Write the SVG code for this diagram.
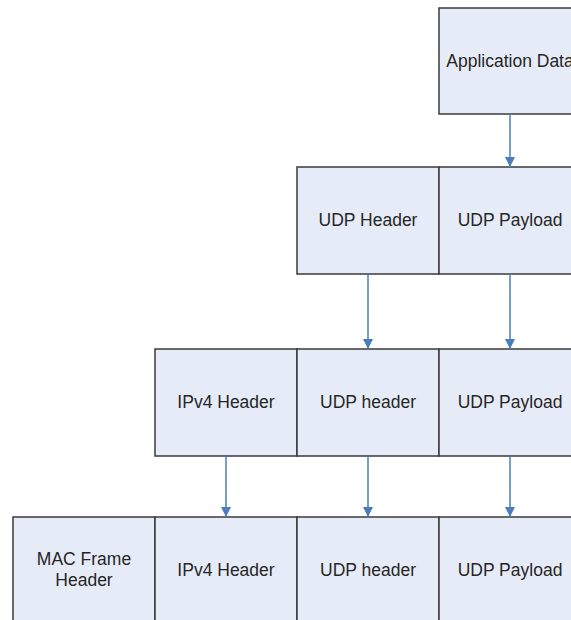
<svg xmlns="http://www.w3.org/2000/svg" width="571" height="620" viewBox="0 0 571 620">
<style>
.box{fill:#e6ecf7;stroke:#3a3a3a;stroke-width:1.5}
.t{font-family:"Liberation Sans",Arial,sans-serif;font-size:17.5px;fill:#262626;text-anchor:middle}
.c{stroke:#4a7ebb;stroke-width:1.5;fill:none;marker-end:url(#ah)}
</style>
<defs>
<marker id="ah" markerUnits="userSpaceOnUse" markerWidth="10" markerHeight="10" refX="10" refY="5" orient="auto">
<path d="M0,0 L10,5 L0,10 Z" fill="#4a7ebb"/>
</marker>
</defs>
<rect width="571" height="620" fill="#ffffff"/>
<g id="app-data"><rect class="box" x="439" y="8" width="142" height="106"/><text class="t" x="510" y="67">Application Data</text></g>
<g id="udp-header-2"><rect class="box" x="297" y="167" width="142" height="107"/><text class="t" x="368" y="226">UDP Header</text></g>
<g id="udp-payload-2"><rect class="box" x="439" y="167" width="142" height="107"/><text class="t" x="510" y="226">UDP Payload</text></g>
<g id="ipv4-header-3"><rect class="box" x="155" y="349" width="142" height="107"/><text class="t" x="226" y="408">IPv4 Header</text></g>
<g id="udp-header-3"><rect class="box" x="297" y="349" width="142" height="107"/><text class="t" x="368" y="408">UDP header</text></g>
<g id="udp-payload-3"><rect class="box" x="439" y="349" width="142" height="107"/><text class="t" x="510" y="408">UDP Payload</text></g>
<g id="mac-header-4"><rect class="box" x="13" y="517" width="142" height="107"/><text class="t" x="84" y="565">MAC Frame</text><text class="t" x="84" y="586">Header</text></g>
<g id="ipv4-header-4"><rect class="box" x="155" y="517" width="142" height="107"/><text class="t" x="226" y="576">IPv4 Header</text></g>
<g id="udp-header-4"><rect class="box" x="297" y="517" width="142" height="107"/><text class="t" x="368" y="576">UDP header</text></g>
<g id="udp-payload-4"><rect class="box" x="439" y="517" width="142" height="107"/><text class="t" x="510" y="576">UDP Payload</text></g>
<g id="connectors">
<line class="c" x1="510" y1="114" x2="510" y2="167"/>
<line class="c" x1="368" y1="274" x2="368" y2="349"/>
<line class="c" x1="510" y1="274" x2="510" y2="349"/>
<line class="c" x1="226" y1="456" x2="226" y2="517"/>
<line class="c" x1="368" y1="456" x2="368" y2="517"/>
<line class="c" x1="510" y1="456" x2="510" y2="517"/>
</g>
</svg>
